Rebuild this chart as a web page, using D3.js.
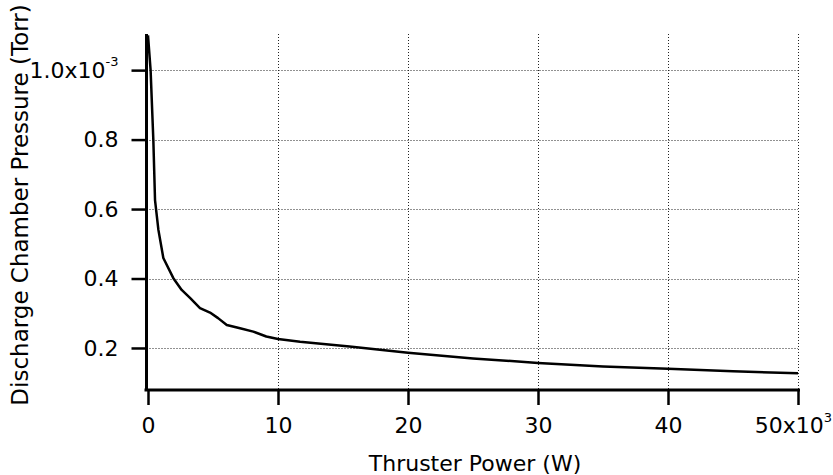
<!DOCTYPE html>
<html>
  <head>
    <meta charset="UTF-8" />
    <style>
      body { margin: 0; background: white; }
      text { font-family: "DejaVu Sans", sans-serif; fill: black; }
    </style>
  </head>
  <body>
    <svg></svg>
    <script src="https://d3js.org/d3.v7.min.js"></script>
    <script>
      let width = 833,
        height = 475;

      // thruster power (x10^3 W) and chamber pressure (x10^-3 Torr)
      let power = [0.0, 0.2, 0.41, 0.54, 0.8, 1.18, 1.95, 2.59, 3.23, 4.0, 4.77, 5.39, 6.06, 7.08, 8.1, 9.1, 10.0, 11.7, 15.5, 20, 25, 30, 35, 40, 45, 50];
      let pressure = [1.10, 1.0, 0.8, 0.626, 0.54, 0.459, 0.401, 0.367, 0.344, 0.315, 0.302, 0.286, 0.266, 0.257, 0.247, 0.233, 0.226, 0.218, 0.204, 0.186, 0.170, 0.157, 0.147, 0.140, 0.133, 0.127];

      let xTicks = [0, 10, 20, 30, 40, 50];
      let yTicks = [0.2, 0.4, 0.6, 0.8, 1.0];

      let svg = d3.select("svg").attr("width", width).attr("height", height);

      let x = d3.scaleLinear().domain([0, 50]).range([148, 798]);
      let y = d3.scaleLinear().domain([0.079, 1.104]).range([390, 34]);

      let pLeft = 146.5, pRight = 800, pTop = 34, pBottom = 390;

      // dotted grid
      let grid = svg.append("g")
        .attr("stroke", "#222")
        .attr("stroke-width", 1)
        .attr("stroke-dasharray", "1,2");
      grid.selectAll(".vg")
        .data(xTicks.filter(d => d > 0))
        .join("line")
        .attr("x1", d => Math.round(x(d)) + 0.5)
        .attr("x2", d => Math.round(x(d)) + 0.5)
        .attr("y1", pTop)
        .attr("y2", pBottom);
      grid.selectAll(".hg")
        .data(yTicks)
        .join("line")
        .attr("x1", pLeft)
        .attr("x2", x(50))
        .attr("y1", d => Math.round(y(d)) + 0.5)
        .attr("y2", d => Math.round(y(d)) + 0.5);

      svg.append("clipPath").attr("id", "clip")
        .append("rect")
        .attr("x", pLeft).attr("y", pTop)
        .attr("width", pRight - pLeft).attr("height", pBottom - pTop);

      let pts = power.map((p, i) => [p, pressure[i]]);
      let line = d3.line().x(d => x(d[0])).y(d => y(d[1]));

      svg.append("path")
        .datum(pts)
        .attr("clip-path", "url(#clip)")
        .attr("fill", "none")
        .attr("stroke", "black")
        .attr("stroke-width", 2.5)
        .attr("stroke-linejoin", "round")
        .attr("d", line);

      // axes
      let xAxis = svg.append("g")
        .attr("transform", `translate(0,${pBottom})`)
        .call(d3.axisBottom(x).tickValues(xTicks).tickSize(15).tickPadding(12).tickFormat(d3.format("d")));
      xAxis.select(".domain").attr("d", `M${pLeft - 2},0H${pRight}`).attr("stroke-width", 3);
      xAxis.selectAll(".tick line").attr("stroke-width", 2.5);
      xAxis.selectAll(".tick text")
        .attr("font-size", 22)
        .attr("font-family", "DejaVu Sans");
      xAxis.selectAll(".tick text").filter(d => d == 50)
        .attr("dx", -5)
        .text("50x10")
        .append("tspan")
        .attr("dy", -11)
        .attr("font-size", 13)
        .text("3");

      let yAxis = svg.append("g")
        .attr("transform", `translate(${pLeft},0)`)
        .call(d3.axisLeft(y).tickValues(yTicks).tickSize(15).tickPadding(13).tickFormat(d3.format(".1f")));
      yAxis.select(".domain").attr("d", `M0,${pTop}V${pBottom}`).attr("stroke-width", 3);
      yAxis.selectAll(".tick line").attr("stroke-width", 2.5);
      yAxis.selectAll(".tick text")
        .attr("font-size", 22)
        .attr("font-family", "DejaVu Sans");
      yAxis.selectAll(".tick text").filter(d => d == 1.0)
        .text("1.0x10")
        .append("tspan")
        .attr("dy", -12)
        .attr("font-size", 13)
        .text("-3");

      // titles
      svg.append("text")
        .attr("x", 475)
        .attr("y", 471)
        .attr("text-anchor", "middle")
        .attr("font-size", 22)
        .text("Thruster Power (W)");

      svg.append("text")
        .attr("transform", "translate(28,205) rotate(-90)")
        .attr("text-anchor", "middle")
        .attr("font-size", 23)
        .text("Discharge Chamber Pressure (Torr)");
    </script>
  </body>
</html>
